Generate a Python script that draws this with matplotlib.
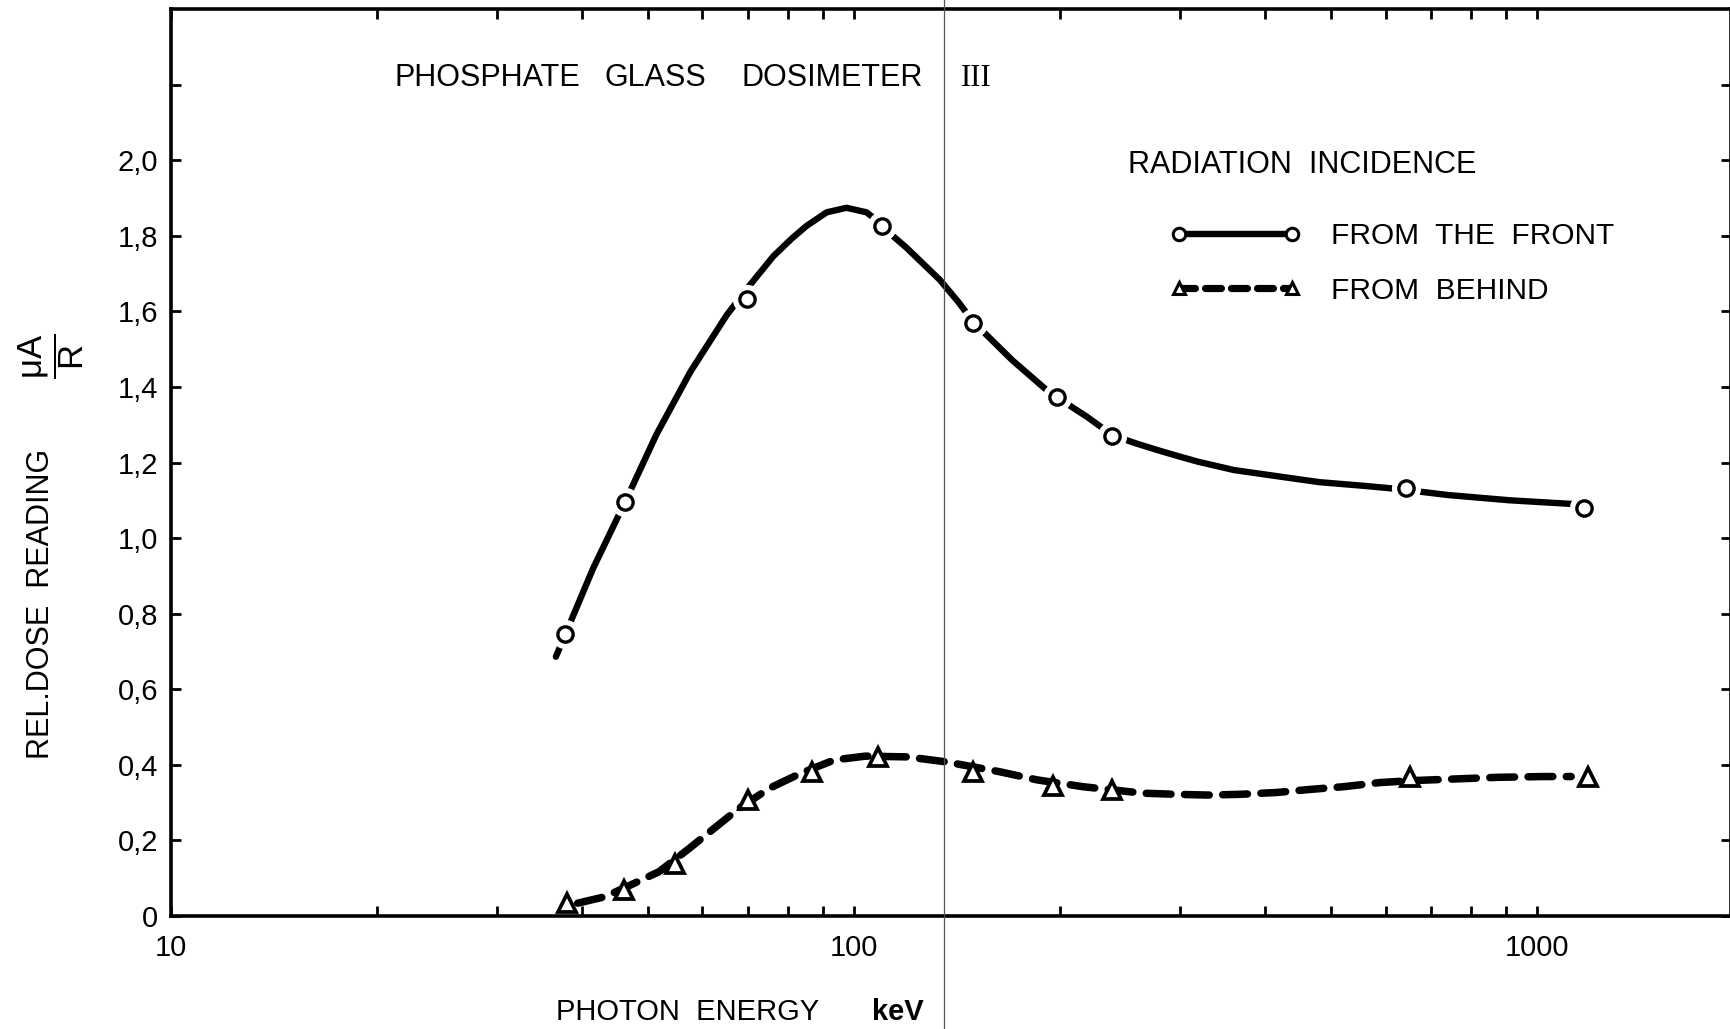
import matplotlib
matplotlib.use("Agg")
import matplotlib.pyplot as plt
from matplotlib.lines import Line2D
from matplotlib.ticker import FixedLocator, FixedFormatter, NullFormatter

plt.rcParams['font.family'] = ['Liberation Sans', 'DejaVu Sans']
plt.rcParams['mathtext.fontset'] = 'custom'
plt.rcParams['mathtext.rm'] = 'Liberation Sans'

# ---------------- data ----------------
front_marker_energy = [37.8, 46.2, 69.7, 109.9, 149.5, 198, 239, 643, 1172]
front_marker_value = [0.746, 1.095, 1.632, 1.825, 1.568, 1.373, 1.270, 1.132, 1.079]

front_curve_energy = [36.6, 37.8, 41.5, 46.2, 51.4, 57.6, 65.1, 70.0, 76.2,
                      81.0, 85.2, 91.2, 97.5, 104.3, 106.7, 112.9, 119.4, 133.6, 142.1,
                      149.5, 170.4, 190.5, 198, 219.3, 239, 259.3, 278, 298, 319,
                      360, 423, 480, 560, 625, 740, 912, 1132]
front_curve_value = [0.686, 0.746, 0.920, 1.095, 1.275, 1.440, 1.590, 1.664, 1.746,
                     1.792, 1.826, 1.862, 1.874, 1.862, 1.848, 1.806, 1.768, 1.683, 1.625,
                     1.572, 1.471, 1.395, 1.373, 1.321, 1.272, 1.250, 1.233, 1.217, 1.202,
                     1.180, 1.162, 1.148, 1.138, 1.130, 1.114, 1.100, 1.090]

behind_marker_energy = [38.0, 46.0, 54.6, 69.9, 86.7, 108.6, 149.1, 195.4, 238.8, 652, 1187]
behind_marker_value = [0.034, 0.070, 0.138, 0.307, 0.382, 0.421, 0.382, 0.344, 0.333, 0.369, 0.367]

behind_curve_energy = [39.4, 43.2, 47.6, 51.8, 57.4, 62.8, 67.9, 75.2, 83.4, 93.6,
                       103.9, 119.7, 136.2, 163.1, 185.6, 216.7, 264.8, 295.6, 330,
                       368, 417, 465.6, 520, 588, 652, 743, 877, 1020, 1122]
behind_curve_value = [0.034, 0.051, 0.086, 0.117, 0.179, 0.236, 0.285, 0.338, 0.377, 0.413,
                      0.423, 0.421, 0.408, 0.382, 0.360, 0.342, 0.325, 0.322, 0.320,
                      0.322, 0.327, 0.335, 0.342, 0.353, 0.358, 0.362, 0.367, 0.369, 0.369]

x_major_ticks = [10, 100, 1000]
x_major_labels = ["10", "100", "1000"]
x_minor_ticks = [20, 30, 40, 50, 60, 70, 80, 90, 200, 300, 400, 500, 600, 700, 800, 900]
y_ticks = [0, 0.2, 0.4, 0.6, 0.8, 1.0, 1.2, 1.4, 1.6, 1.8, 2.0, 2.2]
y_tick_labels = ["0", "0,2", "0,4", "0,6", "0,8", "1,0", "1,2", "1,4", "1,6", "1,8", "2,0", ""]

title_words = ["PHOSPHATE", "GLASS", "DOSIMETER"]
legend_title = "RADIATION  INCIDENCE"
legend_labels = ["FROM  THE  FRONT", "FROM  BEHIND"]

# ---------------- figure ----------------
W, H = 1731, 1029
fig = plt.figure(figsize=(W / 100, H / 100), dpi=100)
ax = fig.add_axes([171 / W, (H - 916) / H, (W - 171) / W, (916 - 9) / H])

ax.set_xscale('log')
ax.set_xlim(10, 1923)
ax.set_ylim(0, 2.4)

FS = 21
TFS = 22

# front curve (solid) with gaps at markers
ax.plot(front_curve_energy, front_curve_value, color='black', lw=4.6,
        solid_capstyle='round', solid_joinstyle='round', zorder=2)
ax.plot(front_marker_energy, front_marker_value, linestyle='none', marker='o',
        ms=21, mfc='white', mec='none', zorder=3)
ax.plot(front_marker_energy, front_marker_value, linestyle='none', marker='o',
        ms=11, mfc='white', mec='black', mew=2.4, zorder=4)

# behind curve (dashed)
ax.plot(behind_curve_energy, behind_curve_value, color='black', lw=5.4,
        dashes=(3.3, 1.8), dash_capstyle='round', dash_joinstyle='round', zorder=2)
ax.plot(behind_marker_energy, behind_marker_value, linestyle='none', marker='^',
        ms=13, mfc='white', mec='black', mew=2.7, zorder=4)

# axes styling
for s in ax.spines.values():
    s.set_linewidth(2.6)
ax.xaxis.set_major_locator(FixedLocator(x_major_ticks))
ax.xaxis.set_major_formatter(FixedFormatter(x_major_labels))
ax.xaxis.set_minor_locator(FixedLocator(x_minor_ticks))
ax.xaxis.set_minor_formatter(NullFormatter())
ax.yaxis.set_major_locator(FixedLocator(y_ticks))
ax.yaxis.set_major_formatter(FixedFormatter(y_tick_labels))
ax.tick_params(axis='both', which='both', direction='in', length=7, width=2,
               top=True, right=True, labelsize=FS)
ax.tick_params(axis='x', which='both', pad=13)
ax.tick_params(axis='y', which='both', pad=9)

# title, word by word as spaced in the original
title_x = [395, 604, 742]
for wd, xx in zip(title_words, title_x):
    fig.text(xx / W, 1 - 78 / H, wd, fontsize=TFS, ha='left', va='center')
fig.text(961 / W, 1 - 78 / H, "III", fontsize=TFS, ha='left', va='center',
         family='Liberation Serif')

fig.text(1128 / W, 1 - 165 / H, legend_title, fontsize=TFS, ha='left', va='center')

h_front = Line2D([], [], color='black', lw=4.6, marker='o', ms=9, mfc='white',
                 mec='black', mew=2.2)
h_behind = Line2D([], [], color='black', lw=5.2, dashes=(2.2, 1.4), dash_capstyle='round',
                  marker='^', ms=9, mfc='white', mec='black', mew=2.2)
leg = ax.legend([h_front, h_behind], legend_labels, loc='upper left',
                bbox_to_anchor=(1170 / W, 1 - 222 / H), bbox_transform=fig.transFigure,
                frameon=False, numpoints=2, fontsize=21.5, handlelength=4.4,
                handletextpad=1.0, labelspacing=0.9, borderpad=0, borderaxespad=0)

fig.text(41 / W, 1 - 604 / H, "REL.DOSE  READING", fontsize=TFS, rotation=90,
         ha='center', va='center')
fig.text(51 / W, 1 - 356 / H, r"$\dfrac{\mathrm{\mu A}}{\mathrm{R}}$", fontsize=25,
         rotation=90, ha='center', va='center')

fig.text(556 / W, 1 - 1012 / H, "PHOTON  ENERGY", fontsize=FS, ha='left', va='center')
fig.text(872 / W, 1 - 1012 / H, "keV", fontsize=FS, ha='left', va='center',
         fontweight='bold')

# scanner crease line
fig.add_artist(Line2D([944 / W, 944 / W], [0, 1], transform=fig.transFigure,
                      color='#555555', lw=0.9))

fig.savefig("out.png", dpi=100, facecolor='white')
